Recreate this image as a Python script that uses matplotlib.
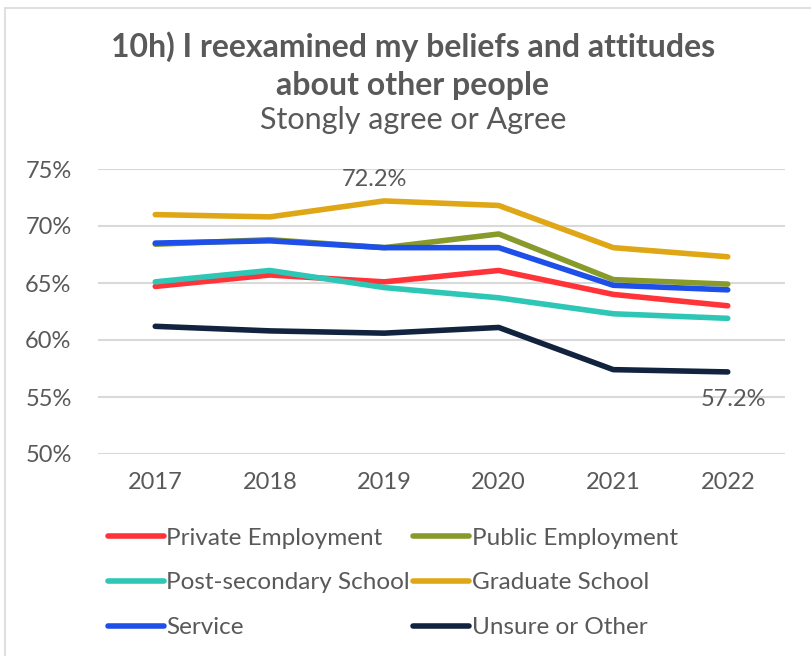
import matplotlib.pyplot as plt
from matplotlib.patches import Rectangle

years = ['2017', '2018', '2019', '2020', '2021', '2022']
private = [64.7, 65.7, 65.1, 66.1, 64.0, 63.0]
public = [68.4, 68.8, 68.1, 69.3, 65.3, 64.9]
postsec = [65.1, 66.1, 64.6, 63.7, 62.3, 61.9]
graduate = [71.0, 70.8, 72.2, 71.8, 68.1, 67.3]
service = [68.5, 68.7, 68.1, 68.1, 64.8, 64.4]
unsure = [61.2, 60.8, 60.6, 61.1, 57.4, 57.2]

names = ['Private Employment', 'Public Employment', 'Post-secondary School',
         'Graduate School', 'Service', 'Unsure or Other']
series = [private, public, postsec, graduate, service, unsure]
colors = ['#FF3338', '#879A2A', '#2EC6B4', '#DFA716', '#1E4FE9', '#12233F']

plt.rcParams['font.family'] = ['Lato', 'DejaVu Sans']
txt = '#595959'

fig = plt.figure(figsize=(8.12, 6.56), dpi=100)
fig.patches.append(Rectangle((0.006, -0.01), 1.2, 0.998, transform=fig.transFigure,
                             fill=False, edgecolor='#D9D9D9', linewidth=1.2))
ax = fig.add_axes([98 / 812, 1 - 454 / 656, 687 / 812, 285 / 656])

x = range(len(years))
lines = []
for vals, name, c in zip(series, names, colors):
    ln, = ax.plot(x, vals, color=c, linewidth=4, solid_capstyle='round',
                  label=name, zorder=3)
    lines.append(ln)

ax.annotate('72.2%', (2, graduate[2]), xytext=(-7, 8), textcoords='offset points',
            ha='center', va='bottom', fontsize=17, color=txt)
ax.annotate('57.2%', (5, unsure[5]), xytext=(4, -12), textcoords='offset points',
            ha='center', va='top', fontsize=17, color=txt)

ax.set_xlim(-0.5, 5.5)
ax.set_ylim(50, 75)
ax.set_xticks(list(x))
ax.set_xticklabels(years)
ax.set_yticks([50, 55, 60, 65, 70, 75])
ax.set_yticklabels([f'{v}%' for v in [50, 55, 60, 65, 70, 75]])
ax.tick_params(length=0, labelsize=17, colors=txt)
ax.tick_params(axis='x', pad=13)
ax.tick_params(axis='y', pad=19)
ax.grid(axis='y', color='#D9D9D9', linewidth=1.5)
ax.set_axisbelow(True)
for s in ax.spines.values():
    s.set_visible(False)

fig.text(413 / 812, 1 - 47 / 656, '10h) I reexamined my beliefs and attitudes',
         ha='center', va='center', fontsize=23, fontweight='bold', color=txt)
fig.text(413 / 812, 1 - 85 / 656, 'about other people',
         ha='center', va='center', fontsize=23, fontweight='bold', color=txt)
fig.text(413 / 812, 1 - 120 / 656, 'Stongly agree or Agree',
         ha='center', va='center', fontsize=22, color=txt)

order = [0, 2, 4, 1, 3, 5]
leg = fig.legend([lines[i] for i in order], [names[i] for i in order], ncol=2,
                 loc='upper left', bbox_to_anchor=(86 / 812, 1 - 506 / 656),
                 frameon=False, fontsize=17.5, handlelength=2.3, handletextpad=0.1,
                 columnspacing=0.15, labelspacing=0.97, labelcolor=txt)

fig.savefig('out.png', dpi=100)
